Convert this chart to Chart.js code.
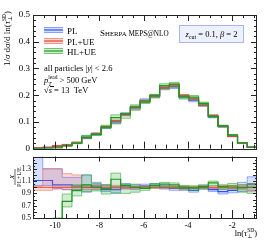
<!DOCTYPE html>
<html>
<head>
<meta charset="utf-8">
<script src="https://cdn.jsdelivr.net/npm/chart.js@4.4.0/dist/chart.umd.min.js"></script>
<style>
  html, body { margin: 0; padding: 0; background: #fff; }
  canvas { position: absolute; left: 0; }
  #top { top: 0; }
  #bot { top: 150px; }
</style>
</head>
<body>
<canvas id="top" width="266" height="157"></canvas>
<canvas id="bot" width="266" height="90"></canvas>
<script>
// bin edges in ln(tau_perp^SD)
const edges = [-11, -10.56, -10.12, -9.68, -9.24, -8.80, -8.36, -7.92, -7.48, -7.04, -6.60, -6.16,
  -5.72, -5.28, -4.84, -4.40, -3.96, -3.52, -3.08, -2.64, -2.20, -1.76, -1.32, -0.88];

// normalised distributions (upper panel)
const plVals   = [0.0022, 0.0044, 0.0093, 0.013, 0.021, 0.040, 0.056, 0.079, 0.100, 0.129, 0.153, 0.181,
  0.197, 0.227, 0.232, 0.195, 0.181, 0.163, 0.119, 0.083, 0.046, 0.021, 0.0053];
const plueVals = [0.002, 0.004, 0.009, 0.013, 0.021, 0.041, 0.055, 0.081, 0.104, 0.127, 0.153, 0.178,
  0.197, 0.227, 0.237, 0.199, 0.186, 0.163, 0.124, 0.084, 0.047, 0.021, 0.005];
const hlueVals = [0.0005, 0.001, 0.003, 0.010, 0.020, 0.043, 0.052, 0.081, 0.116, 0.130, 0.156, 0.174,
  0.197, 0.236, 0.241, 0.193, 0.193, 0.169, 0.121, 0.085, 0.051, 0.021, 0.005];

// ratios to PL+UE (lower panel), with band edges
const plRatio = [1.11, 1.11, 1.04, 1.04, 1.02, 1.00, 1.02, 0.98, 0.96, 1.02, 1.00, 1.02, 1.03, 1.00, 0.98, 0.98, 0.95, 1.00, 0.96, 0.93, 0.95, 1.00, 1.05];
const plHi    = [1.55, 1.30, 1.30, 1.16, 1.16, 1.20, 1.08, 1.04, 1.01, 1.06, 1.04, 1.05, 1.06, 1.03, 1.01, 1.01, 0.98, 1.03, 0.99, 0.97, 0.99, 1.08, 1.17];
const plLo    = [1.03, 1.03, 0.98, 0.96, 0.94, 0.92, 0.96, 0.93, 0.91, 0.98, 0.96, 0.99, 1.00, 0.97, 0.95, 0.95, 0.92, 0.97, 0.93, 0.89, 0.91, 0.93, 0.94];
const plueRatio = [1, 1, 1, 1, 1, 1, 1, 1, 1, 1, 1, 1, 1, 1, 1, 1, 1, 1, 1, 1, 1, 1, 1];
const plueHi  = [1.02, 1.30, 1.30, 1.22, 1.20, 1.04, 1.04, 1.03, 1.03, 1.03, 1.02, 1.02, 1.02, 1.02, 1.02, 1.02, 1.02, 1.02, 1.02, 1.03, 1.03, 1.04, 1.06];
const plueLo  = [0.95, 0.95, 0.97, 0.96, 0.96, 0.96, 0.97, 0.97, 0.97, 0.97, 0.98, 0.98, 0.98, 0.98, 0.98, 0.98, 0.98, 0.98, 0.98, 0.97, 0.97, 0.96, 0.94];
const hlueRatio = [0.20, 0.20, 0.30, 0.77, 0.95, 1.04, 1.00, 0.96, 1.13, 1.03, 1.00, 0.98, 1.03, 1.05, 1.04, 1.00, 0.99, 1.01, 1.07, 1.01, 1.02, 0.99, 1.00];
const hlueHi  = [0.40, 0.40, 0.50, 0.89, 1.04, 1.20, 1.06, 1.04, 1.23, 1.05, 1.05, 1.01, 1.06, 1.08, 1.07, 1.03, 1.02, 1.04, 1.10, 1.04, 1.06, 1.04, 1.06];
const hlueLo  = [0.00, 0.00, 0.10, 0.68, 0.86, 0.93, 0.94, 0.89, 0.90, 0.90, 0.92, 0.95, 0.99, 1.00, 0.99, 0.96, 0.95, 0.97, 1.03, 0.97, 0.98, 0.92, 0.90];

const xTickLabels = [-10, -8, -6, -4, -2];

const serif = '"Liberation Serif", "DejaVu Serif", serif';
const series = [
  { name: 'PL',    line: 'rgb(40,80,250)',  band: 'rgba(70,110,255,0.22)', edge: 'rgba(70,110,255,0.55)',
    vals: plVals, ratio: plRatio, hi: plHi, lo: plLo },
  { name: 'PL+UE', line: 'rgb(235,60,45)',  band: 'rgba(240,90,70,0.22)',  edge: 'rgba(240,90,70,0.55)',
    vals: plueVals, ratio: plueRatio, hi: plueHi, lo: plueLo },
  { name: 'HL+UE', line: 'rgb(30,150,30)',  band: 'rgba(50,170,50,0.22)',  edge: 'rgba(50,170,50,0.6)',
    vals: hlueVals, ratio: hlueRatio, hi: hlueHi, lo: hlueLo }
];

function steps(vals) {
  return edges.map((x, i) => ({ x: x, y: vals[Math.min(i, vals.length - 1)] }));
}

function buildDatasets(ratioPanel) {
  const ds = [];
  series.forEach(s => {
    const c = ratioPanel ? s.ratio : s.vals;
    const hi = ratioPanel ? s.hi : s.vals.map((v, i) => v * s.hi[i] / s.ratio[i]);
    const lo = ratioPanel ? s.lo : s.vals.map((v, i) => v * s.lo[i] / s.ratio[i]);
    ds.push({ data: steps(hi), borderColor: s.edge, borderWidth: 1, fill: false });
    ds.push({ data: steps(lo), borderColor: s.edge, borderWidth: 1, fill: '-1', backgroundColor: s.band });
    ds.push({ data: steps(c), borderColor: s.line, borderWidth: 1.2, fill: false });
  });
  const n = ds.length;
  ds.forEach((d, i) => {
    d.stepped = true; d.pointRadius = 0; d.tension = 0; d.order = n - i;
  });
  return ds;
}

// rich text: parts = [text, size, style, dy, noAdvance]
function rich(ctx, x, y, parts, align) {
  let w = 0;
  parts.forEach(p => {
    ctx.font = (p[2] || '') + ' ' + p[1] + 'px ' + serif;
    if (!p[4]) w += ctx.measureText(p[0]).width;
  });
  let cx = align === 'right' ? x - w : align === 'center' ? x - w / 2 : x;
  parts.forEach(p => {
    ctx.font = (p[2] || '') + ' ' + p[1] + 'px ' + serif;
    ctx.fillText(p[0], cx, y + (p[3] || 0));
    if (!p[4]) cx += ctx.measureText(p[0]).width;
  });
}

function ticksX(ctx, chart, yEdge, dir, maj, min) {
  const x = chart.scales.x;
  for (let v = -11; v <= -0.9; v += 0.5) {
    const px = Math.round(x.getPixelForValue(v)) + 0.5;
    const len = Number.isInteger(v / 2) ? maj : min;
    if (!len) continue;
    ctx.beginPath(); ctx.moveTo(px, yEdge); ctx.lineTo(px, yEdge + dir * len); ctx.stroke();
  }
}

function ticksY(ctx, chart, from, to, step, majEvery, maj, min) {
  const y = chart.scales.y, a = chart.chartArea;
  const n = Math.round((to - from) / step);
  for (let i = 0; i <= n; i++) {
    const v = from + i * step;
    const py = Math.round(y.getPixelForValue(v)) + 0.5;
    const len = (i % majEvery === 0) ? maj : min;
    ctx.beginPath();
    ctx.moveTo(a.left, py); ctx.lineTo(a.left + len, py);
    ctx.moveTo(a.right, py); ctx.lineTo(a.right - len, py);
    ctx.stroke();
  }
}

const upperDecor = {
  id: 'upperDecor',
  afterDraw(chart) {
    const ctx = chart.ctx, a = chart.chartArea;
    ctx.save();
    ctx.strokeStyle = '#222'; ctx.lineWidth = 1;
    ctx.strokeRect(Math.round(a.left) + 0.5, Math.round(a.top) + 0.5, Math.round(a.right - a.left) - 1, Math.round(a.bottom - a.top));
    ticksX(ctx, chart, a.top, 1, 6, 3);
    ticksX(ctx, chart, a.bottom, -1, 7, 4);
    ticksY(ctx, chart, 0, 0.5, 0.02, 5, 6, 3);

    ctx.fillStyle = '#000';
    ctx.textBaseline = 'alphabetic';
    // legend
    const ly = [30, 41, 51];
    series.forEach((s, i) => {
      ctx.fillStyle = s.band;
      ctx.fillRect(44, ly[i] - 3, 19, 6);
      ctx.strokeStyle = s.edge;
      ctx.beginPath();
      ctx.moveTo(44, ly[i] - 2.5); ctx.lineTo(63, ly[i] - 2.5);
      ctx.moveTo(44, ly[i] + 2.5); ctx.lineTo(63, ly[i] + 2.5);
      ctx.stroke();
      ctx.strokeStyle = s.line; ctx.lineWidth = 1.2;
      ctx.beginPath(); ctx.moveTo(44, ly[i]); ctx.lineTo(63, ly[i]); ctx.stroke();
      ctx.lineWidth = 1;
      ctx.fillStyle = '#000';
      rich(ctx, 67, ly[i] + 3.5, [[s.name, 9]]);
    });
    // process info
    rich(ctx, 44, 71, [['all particles |', 8.5], ['y', 8.5, 'italic'], ['| < 2.6', 8.5]]);
    rich(ctx, 44, 83, [['p', 8.5, 'italic'], ['T', 6, 'italic', 2.5, true], ['lead', 5.5, '', -4], [' > 500 GeV', 8.5]]);
    rich(ctx, 44, 93, [['\u221A', 8.5], ['s', 8.5, 'italic'], [' = 13  TeV', 8.5]]);
    ctx.beginPath(); ctx.moveTo(50, 86.5); ctx.lineTo(54, 86.5); ctx.strokeStyle = '#000'; ctx.stroke();
    // generator label
    rich(ctx, 100, 36, [['S', 9], ['HERPA', 6.8], [' MEPS@NLO', 7.2]]);
    // parameter box
    ctx.fillStyle = '#edf0fd';
    ctx.fillRect(179.5, 25.5, 64, 17);
    ctx.strokeStyle = '#a6b6f4';
    ctx.strokeRect(179.5, 25.5, 64, 17);
    ctx.fillStyle = '#000';
    rich(ctx, 211.5, 37, [['z', 8.5, 'italic'], ['cut', 6, '', 2], [' = 0.1, ', 8.5], ['\u03B2', 8.5, 'italic'], [' = 2', 8.5]], 'center');
    // y title
    ctx.translate(10, 11);
    ctx.rotate(-Math.PI / 2);
    rich(ctx, 0, 0, [['1/', 9], ['\u03C3', 9, 'italic'], [' d', 9], ['\u03C3', 9, 'italic'], ['/d ln(', 9],
      ['\u03C4', 9, 'italic'], ['\u22A5', 5.5, '', 2, true], ['SD', 5.5, '', -4], [')', 9]], 'right');
    ctx.restore();
  }
};

const lowerDecor = {
  id: 'lowerDecor',
  afterDraw(chart) {
    const ctx = chart.ctx, a = chart.chartArea;
    ctx.save();
    ctx.strokeStyle = '#222'; ctx.lineWidth = 1;
    ctx.strokeRect(Math.round(a.left) + 0.5, Math.round(a.top) + 0.5, Math.round(a.right - a.left) - 1, Math.round(a.bottom - a.top) - 1);
    ticksX(ctx, chart, a.top, 1, 5, 0);
    ticksX(ctx, chart, a.bottom, -1, 8, 4);
    ticksY(ctx, chart, 0.5, 1.5, 0.05, 2, 4, 2);
    ctx.fillStyle = '#000';
    // x title
    rich(ctx, 257, 86, [['ln(', 8.5], ['\u03C4', 8.5, 'italic'], ['\u22A5', 5.5, '', 2, true], ['SD', 5.5, '', -4], [')', 8.5]], 'right');
    // y title (fraction)
    ctx.translate(16, 27);
    ctx.rotate(-Math.PI / 2);
    ctx.textAlign = 'center';
    ctx.font = 'italic 6.5px ' + serif;
    ctx.fillText('X', 0, -2.5);
    ctx.font = '6.5px ' + serif;
    ctx.fillText('PL+UE', 0, 4.5);
    ctx.beginPath(); ctx.moveTo(-8, -1); ctx.lineTo(8, -1); ctx.lineWidth = 0.6; ctx.strokeStyle = '#000'; ctx.stroke();
    ctx.restore();
  }
};

const fmt = v => String(Math.round(v * 10) / 10);

new Chart(document.getElementById('top'), {
  type: 'line',
  data: { datasets: buildDatasets(false) },
  options: {
    responsive: false, animation: false, events: [],
    layout: { padding: { top: 15, right: 9, bottom: 7, left: 0 } },
    plugins: { legend: { display: false }, tooltip: { enabled: false } },
    scales: {
      x: { type: 'linear', min: -11, max: -0.88, display: false },
      y: {
        min: 0, max: 0.5,
        afterFit: s => { s.width = 33; },
        grid: { display: false, drawTicks: false },
        border: { display: false },
        ticks: { stepSize: 0.1, padding: 3, color: '#000', font: { family: serif, size: 9 }, callback: fmt }
      }
    }
  },
  plugins: [upperDecor]
});

new Chart(document.getElementById('bot'), {
  type: 'line',
  data: { datasets: buildDatasets(true) },
  options: {
    responsive: false, animation: false, events: [],
    layout: { padding: { top: 0, right: 9, bottom: 0, left: 0 } },
    plugins: { legend: { display: false }, tooltip: { enabled: false } },
    scales: {
      x: {
        type: 'linear', min: -11, max: -0.88,
        afterFit: s => { s.height = 22; },
        afterBuildTicks: s => { s.ticks = xTickLabels.map(v => ({ value: v })); },
        grid: { display: false, drawTicks: false },
        border: { display: false },
        ticks: { padding: 3, color: '#000', maxRotation: 0, autoSkip: false, font: { family: serif, size: 8.5 } }
      },
      y: {
        min: 0.5, max: 1.5,
        afterFit: s => { s.width = 33; },
        grid: { display: false, drawTicks: false },
        border: { display: false },
        ticks: { stepSize: 0.1, padding: 2, color: '#000', font: { family: serif, size: 7.5 },
          callback: v => (Math.abs(v - 1.5) < 1e-6 ? '' : fmt(v)) }
      }
    }
  },
  plugins: [lowerDecor]
});
</script>
</body>
</html>
